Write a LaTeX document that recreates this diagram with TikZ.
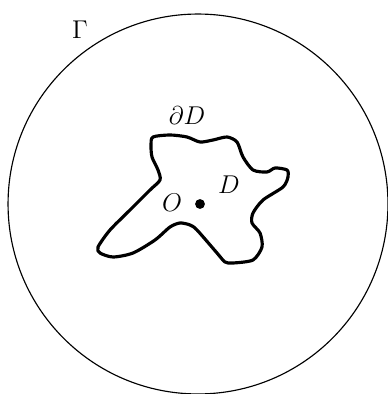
\documentclass[tikz,border=0pt]{standalone}
\usepackage{amsmath,amssymb}
\usetikzlibrary{positioning}

\begin{document}
\begin{tikzpicture}[x=0.02cm,y=-0.02cm,every node/.style={font=\large,scale=1.22}]
\useasboundingbox (0,0) rectangle (387,394);
\coordinate (c0) at (198,204);
\draw[line width=.65pt] (c0) circle (3.8cm);
\draw[line width=1.8pt,line join=round] plot[smooth cycle,tension=.45] coordinates {
(153,137) (170,135) (187,137) (200,142) (213,140) (227,137) (237,142)
(243,157) (253,170) (267,172) (275,168) (287,170) (288,177) (283,187)
(263,200) (253,213) (252,223) (260,233) (262,247) (253,260) (233,263)
(225,262) (217,253) (197,230) (190,225) (180,223) (170,227) (155,240)
(133,253) (113,257) (100,253) (98,247) (110,230) (130,210) (150,190)
(160,180) (158,170) (152,157) (151,145)};
\fill (200,204) circle (2.8pt);
\node (gam) at (80,30) {$\Gamma$};
\node (bd) at (187,116) {$\partial D$};
\node (o) at (172,203) {$O$};
\node (d) at (229,185) {$D$};
\end{tikzpicture}
\end{document}
